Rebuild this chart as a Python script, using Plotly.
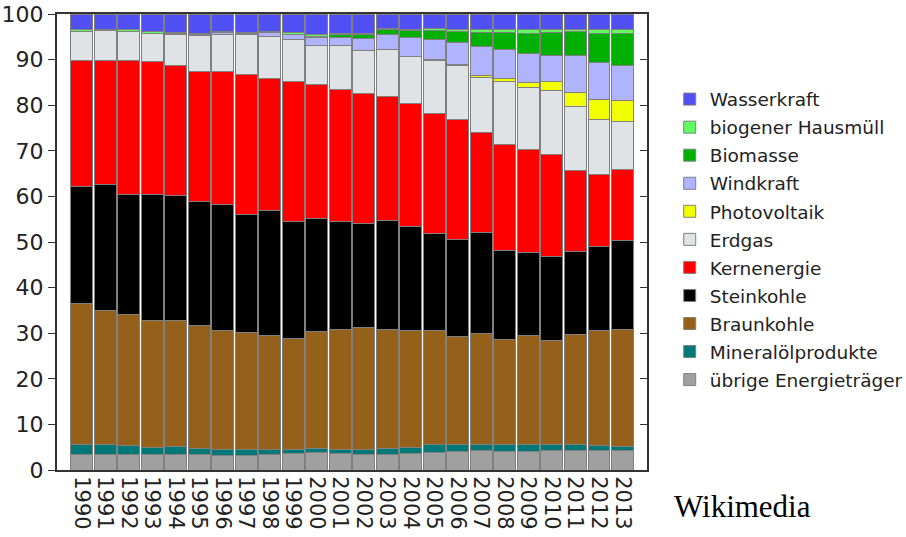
import plotly.graph_objects as go

years = ["1990", "1991", "1992", "1993", "1994", "1995", "1996", "1997", "1998", "1999",
         "2000", "2001", "2002", "2003", "2004", "2005", "2006", "2007", "2008", "2009",
         "2010", "2011", "2012", "2013"]

uebrige = [3.5, 3.4, 3.4, 3.4, 3.5, 3.3, 3.2, 3.2, 3.5, 3.7, 3.8, 3.7, 3.3, 3.5, 3.7, 3.8,
           4.0, 4.2, 4.0, 4.0, 4.2, 4.2, 4.2, 4.2]
mineraloel = [2.0, 2.2, 1.9, 1.5, 1.6, 1.5, 1.4, 1.2, 1.0, 0.8, 1.0, 0.7, 1.1, 1.3, 1.2, 1.9,
              1.6, 1.4, 1.5, 1.6, 1.3, 1.3, 1.1, 0.9]
braunkohle = [31.0, 29.3, 28.9, 27.9, 27.7, 26.8, 26.1, 25.8, 25.1, 24.4, 25.5, 26.5, 26.9, 26.0,
              25.8, 24.9, 23.6, 24.4, 23.2, 24.0, 23.0, 24.3, 25.4, 25.8]
steinkohle = [25.6, 27.7, 26.3, 27.7, 27.4, 27.3, 27.6, 25.8, 27.4, 25.6, 24.9, 23.5, 22.8, 24.0,
              22.7, 21.3, 21.4, 22.0, 19.4, 18.1, 18.3, 18.2, 18.4, 19.5]
kernenergie = [27.8, 27.3, 29.4, 29.0, 28.4, 28.5, 29.0, 30.8, 28.9, 30.7, 29.4, 29.1, 28.4, 27.2,
               27.0, 26.2, 26.3, 22.0, 23.2, 22.5, 22.3, 17.6, 15.8, 15.4]
erdgas = [6.2, 6.4, 6.2, 6.3, 7.0, 7.8, 8.3, 8.6, 9.1, 9.3, 8.5, 9.5, 9.5, 10.3, 10.2, 11.7,
          11.9, 12.0, 14.0, 13.6, 14.2, 14.1, 12.0, 10.6]
photovoltaik = [0, 0, 0, 0, 0, 0, 0, 0, 0, 0, 0, 0, 0, 0, 0.1, 0.2,
                0.2, 0.6, 0.6, 1.1, 1.9, 3.0, 4.4, 4.6]
windkraft = [0, 0, 0, 0, 0.1, 0.3, 0.3, 0.4, 0.9, 0.9, 1.8, 1.9, 2.7, 3.1, 4.2, 4.4,
             4.8, 6.2, 6.4, 6.5, 5.8, 8.1, 8.0, 7.8]
biomasse = [0, 0, 0, 0, 0, 0, 0, 0, 0, 0.2, 0.2, 0.6, 0.7, 1.1, 1.4, 1.9,
            2.3, 3.1, 3.6, 4.4, 4.9, 5.3, 6.5, 7.0]
hausmuell = [0.4, 0.4, 0.4, 0.4, 0.3, 0.2, 0.2, 0.2, 0.3, 0.3, 0.3, 0.3, 0.3, 0.3, 0.3, 0.5,
             0.5, 0.6, 0.6, 0.7, 0.6, 0.6, 0.7, 0.7]
wasserkraft = [3.5, 3.3, 3.5, 3.8, 4.0, 4.3, 3.9, 4.0, 3.8, 4.1, 4.6, 4.2, 4.3, 3.2, 3.4, 3.2,
               3.4, 3.5, 3.5, 3.5, 3.5, 3.3, 3.5, 3.5]

y_ticks = [0, 10, 20, 30, 40, 50, 60, 70, 80, 90, 100]

# stacking order: bottom to top
series = [
    ("übrige Energieträger", uebrige, "#a0a0a0"),
    ("Mineralölprodukte", mineraloel, "#007878"),
    ("Braunkohle", braunkohle, "#95601a"),
    ("Steinkohle", steinkohle, "#000000"),
    ("Kernenergie", kernenergie, "#ff0000"),
    ("Erdgas", erdgas, "#e0e3e6"),
    ("Photovoltaik", photovoltaik, "#f2ff00"),
    ("Windkraft", windkraft, "#b0b4ff"),
    ("Biomasse", biomasse, "#00b000"),
    ("biogener Hausmüll", hausmuell, "#60ff60"),
    ("Wasserkraft", wasserkraft, "#5050f5"),
]

fig = go.Figure()
n = len(series)
for i, (name, vals, col) in enumerate(series):
    fig.add_trace(go.Bar(
        x=years, y=vals, name=name, legendgroup=name,
        legendrank=n - i,
        marker=dict(color=col, line=dict(color="#808080", width=1)),
    ))

# right-side axis with inward ticks
fig.add_trace(go.Scatter(x=[], y=[], yaxis="y2", showlegend=False, hoverinfo="skip"))

font = "DejaVu Sans, Verdana, sans-serif"
fig.update_layout(
    barmode="stack",
    bargap=0.08,
    width=906, height=537,
    margin=dict(l=57, r=259, t=14, b=67, autoexpand=False),
    paper_bgcolor="white",
    plot_bgcolor="white",
    font=dict(family=font, size=20, color="#222222"),
    xaxis=dict(
        type="category",
        range=[-1.05, 24.05],
        tickmode="array", tickvals=years, ticktext=years,
        tickangle=90,
        tickfont=dict(size=21),
        showline=True, linecolor="#333333", linewidth=2, mirror=True,
        ticks="", showgrid=False, zeroline=False, automargin=False,
    ),
    yaxis=dict(
        range=[0, 100],
        tickvals=y_ticks,
        ticks="outside", ticklen=7, tickcolor="#333333", tickwidth=1,
        showline=True, linecolor="#333333", linewidth=2,
        showgrid=False, zeroline=False, automargin=False,
        tickfont=dict(size=22),
    ),
    yaxis2=dict(
        overlaying="y", side="right", range=[0, 100],
        tickvals=y_ticks, showticklabels=False,
        ticks="inside", ticklen=7, tickcolor="#333333", tickwidth=1,
        showline=True, linecolor="#333333", linewidth=2,
        showgrid=False, zeroline=False, automargin=False,
    ),
    legend=dict(
        traceorder="grouped",
        tracegroupgap=1,
        x=1.0385, xanchor="left",
        y=0.854, yanchor="top",
        font=dict(size=18.5, family=font),
        bgcolor="rgba(0,0,0,0)",
    ),
    showlegend=True,
    annotations=[dict(
        text="Wikimedia", xref="paper", yref="paper",
        x=1.042, y=-0.079, xanchor="left", yanchor="middle",
        showarrow=False,
        font=dict(family="Liberation Serif, Times New Roman, serif", size=31, color="black"),
    )],
)

fig.write_html("out.html", config={"displayModeBar": False},
               post_script="document.body.style.margin='0';")
